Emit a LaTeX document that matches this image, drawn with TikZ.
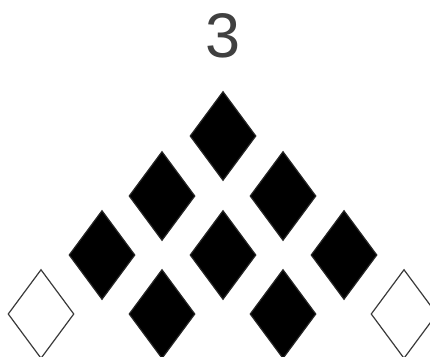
\documentclass[tikz,border=0pt]{standalone}
\usepackage{fontspec}
\setmainfont{Liberation Sans}
\usetikzlibrary{shapes.geometric}
\definecolor{txtgray}{HTML}{404040}
\definecolor{edgegray}{HTML}{3A3A3A}
\tikzset{
  dia/.style={diamond, minimum width=66pt, minimum height=89pt, inner sep=0pt, line width=1.2pt},
  full/.style={dia, draw=black!85, fill=black},
  hollow/.style={dia, draw=edgegray, fill=white},
}
\begin{document}
\begin{tikzpicture}[x=1pt,y=-1pt]
\useasboundingbox (0,0) rectangle (430,356);
\node[anchor=base, text=txtgray, font=\fontsize{63}{63}\selectfont, inner sep=0pt] (num) at (223,57) {3};
\node[full] (d1) at (223,136) {};
\node[full] (d2) at (162,196) {};
\node[full] (d3) at (283,196) {};
\node[full] (d4) at (102,255) {};
\node[full] (d5) at (223,255) {};
\node[full] (d6) at (344,255) {};
\node[full] (d7) at (162,314) {};
\node[full] (d8) at (283,314) {};
\node[hollow] (w1) at (41,314) {};
\node[hollow] (w2) at (404,314) {};
\end{tikzpicture}
\end{document}
